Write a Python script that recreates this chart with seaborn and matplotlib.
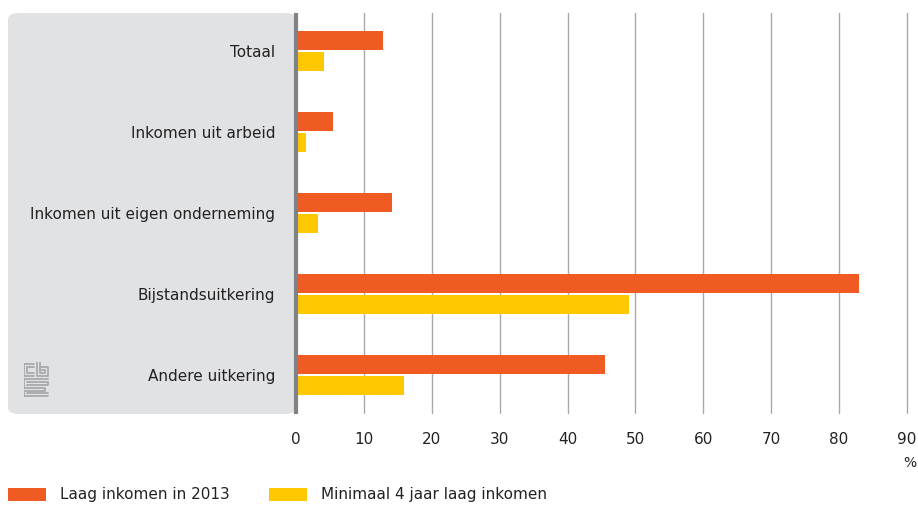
import pandas as pd
import numpy as np
import matplotlib.pyplot as plt
import seaborn as sns
from matplotlib.patches import FancyBboxPatch, Rectangle

categories = ['Totaal', 'Inkomen uit arbeid', 'Inkomen uit eigen onderneming',
              'Bijstandsuitkering', 'Andere uitkering']
laag_2013 = [12.8, 5.5, 14.2, 82.9, 45.5]
minimaal_4jaar = [4.1, 1.5, 3.2, 49.1, 15.9]
series_names = ['Laag inkomen in 2013', 'Minimaal 4 jaar laag inkomen']
x_ticks = [0, 10, 20, 30, 40, 50, 60, 70, 80, 90]

df = pd.DataFrame({
    'categorie': categories * 2,
    'waarde': laag_2013 + minimaal_4jaar,
    'reeks': [series_names[0]] * 5 + [series_names[1]] * 5,
})

sns.set_style('white')
plt.rcParams['font.family'] = ['DejaVu Sans']

W, H = 918, 505
fig = plt.figure(figsize=(W / 100, H / 100), dpi=100)

# gray label panel behind the category names
panel = FancyBboxPatch((8 / W, 1 - 414 / H), (296 - 8) / W, (414 - 13) / H,
                       boxstyle='round,pad=0,rounding_size=0.012',
                       transform=fig.transFigure, facecolor='#e1e2e4',
                       edgecolor='none', zorder=-5)
fig.patches.append(panel)

ax = fig.add_axes([296 / W, 1 - 415.5 / H, (907 - 296) / W, (415.5 - 10.5) / H])
ax.set_zorder(2)
ax.patch.set_alpha(0)

sns.barplot(data=df, y='categorie', x='waarde', hue='reeks', orient='h',
            palette=['#f05a23', '#ffc800'], saturation=1, width=0.5, gap=0.06,
            linewidth=0, ax=ax, legend=False, zorder=3)

ax.set_xlim(0, 90)
ax.set_xticks(x_ticks)
ax.set_xlabel('')
ax.set_ylabel('')
for s in ['top', 'right', 'bottom']:
    ax.spines[s].set_visible(False)
ax.spines['left'].set_visible(False)
ax.grid(False)
# vertical gridlines and axis line, limited to the panel height
y_top, y_bot = ax.get_ylim()[1], ax.get_ylim()[0]
for t in x_ticks[1:]:
    ax.axvline(t, ymin=2.5 / 405, ymax=1 - 2.5 / 405, color='#a7a9ac',
               linewidth=1.0, zorder=1, clip_on=False)
ax.axvline(0, ymin=1.5 / 405, ymax=1 - 2.5 / 405, color='#808285',
           linewidth=3, zorder=5, clip_on=False, solid_capstyle='butt')
ax.tick_params(axis='both', length=0)
ax.tick_params(axis='y', pad=15, labelsize=11, labelcolor='#222222')
ax.tick_params(axis='x', pad=12, labelsize=11, labelcolor='#222222')

fig.text(910 / W, 1 - 463 / H, '%', ha='center', va='center', fontsize=10,
         color='#222222')

# cbs logo (simple line sketch)
lc = '#a7a9ac'
lx, ly = 24, 362
logo = fig.add_axes([lx / W, 1 - (ly + 36) / H, 25 / W, 36 / H])
logo.set_zorder(3)
logo.set_xlim(0, 25)
logo.set_ylim(36, 0)
logo.axis('off')
segs = [
    [(0, 2), (0, 14), (10, 14)], [(0, 2), (10, 2)], [(3, 5), (10, 5)], [(3, 5), (3, 11), (10, 11)],
    [(13, 0), (13, 14), (24, 14), (24, 5), (16, 5)], [(16, 0), (16, 11), (21, 11), (21, 8), (16, 8)],
    [(0, 17), (24, 17)], [(0, 17), (0, 26), (21, 26), (21, 29), (0, 29), (0, 34), (24, 34)],
    [(3, 20), (24, 20), (24, 23), (3, 23)], [(3, 31), (24, 31)],
]
for seg in segs:
    xs, ys = zip(*seg)
    logo.plot(xs, ys, color=lc, linewidth=1.3)

# legend
for name, color, x0 in zip(series_names, ['#f05a23', '#ffc800'], [8, 269]):
    fig.patches.append(Rectangle((x0 / W, 1 - 501 / H), 38 / W, 13 / H,
                                 transform=fig.transFigure, facecolor=color,
                                 edgecolor='none'))
    fig.text((x0 + 52) / W, 1 - 494 / H, name, ha='left', va='center',
             fontsize=11, color='#222222')

fig.savefig('out.png', dpi=100)
